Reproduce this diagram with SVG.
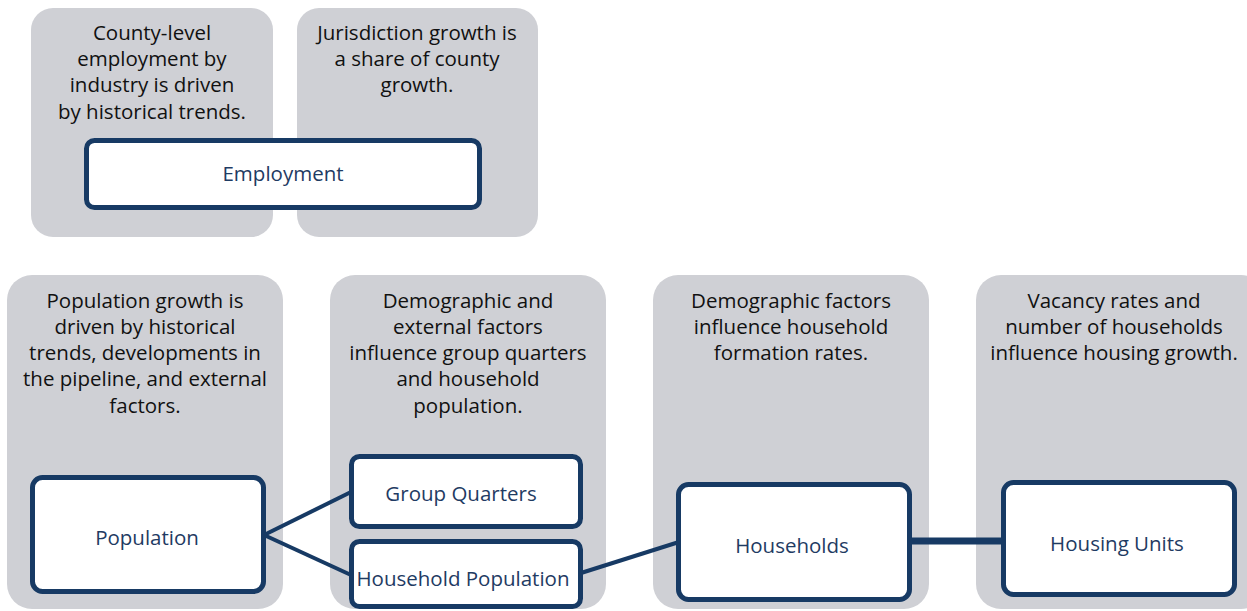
<svg xmlns="http://www.w3.org/2000/svg" width="1247" height="611" viewBox="0 0 1247 611">
<style>
.bg{fill:#cfd0d5;}
.box{fill:#ffffff;stroke:#173a64;stroke-width:5;}
.desc{font-family:"Open Sans","Liberation Sans",sans-serif;font-size:20.5px;fill:#111111;text-anchor:middle;}
.lbl{font-family:"Open Sans","Liberation Sans",sans-serif;font-size:20.5px;fill:#1f3b63;text-anchor:middle;}
.con{stroke:#173a64;stroke-width:4;fill:none;}
.con-thick{stroke:#173a64;stroke-width:7;fill:none;}
</style>
<rect x="0" y="0" width="1247" height="611" fill="#ffffff"/>
<g id="panel-county">
<rect class="bg" x="31" y="8" width="242" height="229" rx="22"/>
<text class="desc" x="152" y="40">County-level</text>
<text class="desc" x="152" y="66">employment by</text>
<text class="desc" x="152" y="92">industry is driven</text>
<text class="desc" x="152" y="119">by historical trends.</text>
</g>
<g id="panel-jurisdiction">
<rect class="bg" x="297" y="8" width="241" height="229" rx="22"/>
<text class="desc" x="417" y="40">Jurisdiction growth is</text>
<text class="desc" x="417" y="66">a share of county</text>
<text class="desc" x="417" y="92">growth.</text>
</g>
<g id="panel-population">
<rect class="bg" x="7" y="275" width="276" height="334" rx="25"/>
<text class="desc" x="145" y="308">Population growth is</text>
<text class="desc" x="145" y="334">driven by historical</text>
<text class="desc" x="145" y="360">trends, developments in</text>
<text class="desc" x="145" y="386">the pipeline, and external</text>
<text class="desc" x="145" y="413">factors.</text>
</g>
<g id="panel-demographic">
<rect class="bg" x="330" y="275" width="276" height="334" rx="25"/>
<text class="desc" x="468" y="308">Demographic and</text>
<text class="desc" x="468" y="334">external factors</text>
<text class="desc" x="468" y="360">influence group quarters</text>
<text class="desc" x="468" y="386">and household</text>
<text class="desc" x="468" y="413">population.</text>
</g>
<g id="panel-households">
<rect class="bg" x="653" y="275" width="276" height="334" rx="25"/>
<text class="desc" x="791" y="308">Demographic factors</text>
<text class="desc" x="791" y="334">influence household</text>
<text class="desc" x="791" y="360">formation rates.</text>
</g>
<g id="panel-housing">
<rect class="bg" x="976" y="275" width="290" height="334" rx="25"/>
<text class="desc" x="1114" y="308">Vacancy rates and</text>
<text class="desc" x="1114" y="334">number of households</text>
<text class="desc" x="1114" y="360">influence housing growth.</text>
</g>
<g id="connectors">
<line class="con" x1="264" y1="535" x2="351" y2="492"/>
<line class="con" x1="264" y1="535" x2="351" y2="575"/>
<line class="con" x1="581" y1="573" x2="679" y2="542"/>
<line class="con-thick" x1="910" y1="541" x2="1003" y2="541"/>
</g>
<g id="node-employment">
<rect class="box" x="86.5" y="140.5" width="393" height="67" rx="8"/>
<text class="lbl" x="283" y="181">Employment</text>
</g>
<g id="node-population">
<rect class="box" x="32.5" y="477.5" width="231" height="114" rx="10"/>
<text class="lbl" x="147" y="545">Population</text>
</g>
<g id="node-group-quarters">
<rect class="box" x="351.5" y="456.5" width="229" height="70" rx="8"/>
<text class="lbl" x="461" y="501">Group Quarters</text>
</g>
<g id="node-household-population">
<rect class="box" x="351.5" y="541.5" width="229" height="65" rx="8"/>
<text class="lbl" x="463" y="586">Household Population</text>
</g>
<g id="node-households">
<rect class="box" x="678.5" y="484.5" width="231" height="115" rx="10"/>
<text class="lbl" x="792" y="553">Households</text>
</g>
<g id="node-housing-units">
<rect class="box" x="1003.5" y="482.5" width="231" height="112" rx="10"/>
<text class="lbl" x="1117" y="551">Housing Units</text>
</g>
</svg>
